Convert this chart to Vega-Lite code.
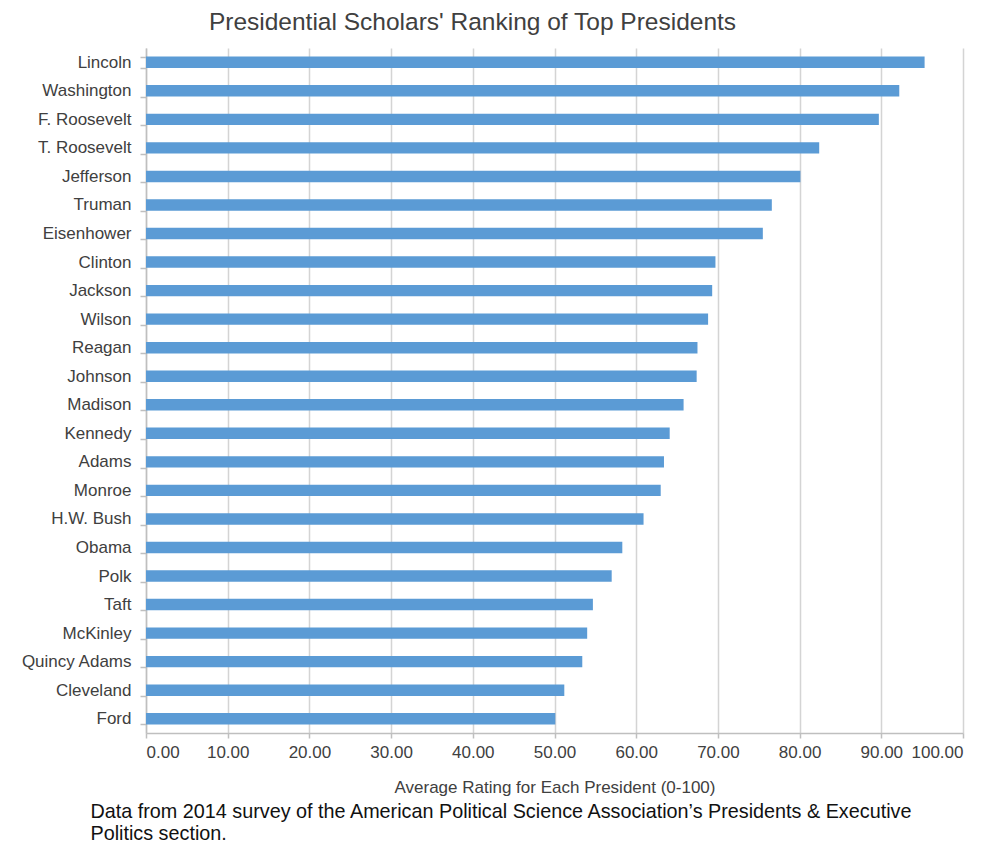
{
  "$schema": "https://vega.github.io/schema/vega-lite/v6.json",
  "background": "white",
  "padding": {"left": 20, "top": 9, "right": 5, "bottom": 0},
  "title": {
    "text": ["Data from 2014 survey of the American Political Science Association’s Presidents & Executive", "Politics section."],
    "orient": "bottom",
    "anchor": "start",
    "font": "Liberation Sans",
    "fontSize": 19.8,
    "fontWeight": "normal",
    "color": "#111111",
    "lineHeight": 22,
    "offset": 7,
    "dx": 70
  },
  "vconcat": [
    {
      "width": 817,
      "height": 685,
      "title": {
        "text": "Presidential Scholars' Ranking of Top Presidents",
        "anchor": "middle",
        "frame": "group",
        "dx": -82,
        "font": "Liberation Sans",
        "fontSize": 24.5,
        "fontWeight": "normal",
        "color": "#404040",
        "offset": 4
      },
      "data": {
        "values": [
          {"president": "Lincoln", "rating": 95.3},
          {"president": "Washington", "rating": 92.2},
          {"president": "F. Roosevelt", "rating": 89.7},
          {"president": "T. Roosevelt", "rating": 82.4},
          {"president": "Jefferson", "rating": 80.1},
          {"president": "Truman", "rating": 76.6},
          {"president": "Eisenhower", "rating": 75.5},
          {"president": "Clinton", "rating": 69.7},
          {"president": "Jackson", "rating": 69.3},
          {"president": "Wilson", "rating": 68.8},
          {"president": "Reagan", "rating": 67.5},
          {"president": "Johnson", "rating": 67.4},
          {"president": "Madison", "rating": 65.8},
          {"president": "Kennedy", "rating": 64.1},
          {"president": "Adams", "rating": 63.4},
          {"president": "Monroe", "rating": 63.0},
          {"president": "H.W. Bush", "rating": 60.9},
          {"president": "Obama", "rating": 58.3},
          {"president": "Polk", "rating": 57.0},
          {"president": "Taft", "rating": 54.7},
          {"president": "McKinley", "rating": 54.0},
          {"president": "Quincy Adams", "rating": 53.4},
          {"president": "Cleveland", "rating": 51.2},
          {"president": "Ford", "rating": 50.1}
        ]
      },
      "mark": {"type": "bar", "color": "#5b9bd5"},
      "encoding": {
        "y": {
          "field": "president",
          "type": "nominal",
          "sort": null,
          "scale": {"paddingInner": 0.6, "paddingOuter": 0.3},
          "axis": {
            "title": null,
            "tickBand": "extent",
            "tickSize": 6,
            "tickColor": "#bfbfbf",
            "tickWidth": 1.5,
            "domainColor": "#bfbfbf",
            "domainWidth": 1.5,
            "labelPadding": 9,
            "labelFont": "Liberation Sans",
            "labelFontSize": 17,
            "labelColor": "#404040",
            "grid": false
          }
        },
        "x": {
          "field": "rating",
          "type": "quantitative",
          "scale": {"domain": [0, 100], "nice": false},
          "axis": {
            "title": "Average Rating for Each President (0-100)",
            "values": [0, 10, 20, 30, 40, 50, 60, 70, 80, 90, 100],
            "format": ".2f",
            "grid": true,
            "gridColor": "#d4d4d4",
            "gridWidth": 1.5,
            "tickSize": 5,
            "tickColor": "#bfbfbf",
            "tickWidth": 1.5,
            "domainColor": "#bfbfbf",
            "domainWidth": 1.5,
            "labelPadding": 6,
            "labelFont": "Liberation Sans",
            "labelFontSize": 17,
            "labelColor": "#404040",
            "titleFont": "Liberation Sans",
            "titleFontSize": 17,
            "titleFontWeight": "normal",
            "titleColor": "#404040",
            "titlePadding": 19
          }
        }
      }
    }
  ],
  "config": {"view": {"stroke": null}}
}
